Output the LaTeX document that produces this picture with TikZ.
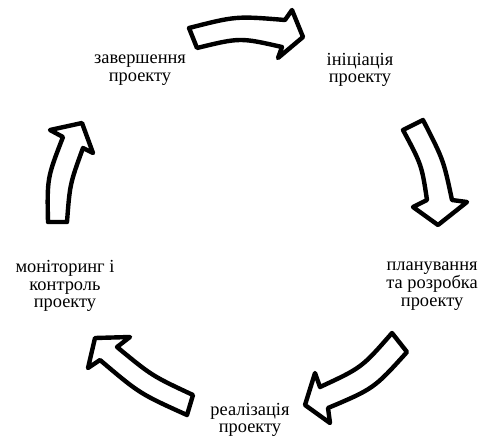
\documentclass[tikz,border=0pt]{standalone}
\usepackage{fontspec}
\setmainfont{Liberation Serif}
\tikzset{x=0.75pt,y=-0.75pt,
  stage/.style={align=center,inner sep=0pt,font=\fontsize{13.8}{13.3}\selectfont},
  blockarrow/.style={draw=black,fill=white,line width=3.3pt,line join=round}}

\begin{document}
\begin{tikzpicture}
        \useasboundingbox (0,0) rectangle (485,436);
        \node[stage] (fin) at (140,70) {завершення\\проекту};
        \node[stage] (init) at (360,70) {ініціація\\проекту};
        \node[stage, anchor=east] (plan) at (478,286) {планування\\та розробка\\проекту};
        \node[stage] (real) at (250,420) {реалізація\\проекту};
        \node[stage] (mon) at (65,286) {моніторинг і\\контроль\\проекту};
        % arrows between the stages
        \draw[blockarrow] (189,28) .. controls (236,16) .. (285,20) -- (292,10) -- (303,37)
            -- (278,58) -- (282,47) .. controls (240,37.5) .. (197,48) -- cycle;
        \draw[blockarrow] (403,130) -- (423,120) .. controls (443.5,160) .. (452,200) -- (467,202)
            -- (438,225) -- (413,207) -- (427,200) .. controls (421.7,165) .. (403,130) -- cycle;
        \draw[blockarrow] (392,333) -- (407,352) .. controls (374,388.5) .. (328,408) -- (330,423)
            -- (305,405) -- (315,373) -- (320,387) .. controls (361.7,367.7) .. (392,333) -- cycle;
        \draw[blockarrow] (193,395) -- (187,415) .. controls (139.6,393.6) .. (100,360) -- (88,368)
            -- (95,338) -- (130,337) -- (117,347) .. controls (151.9,375.8) .. (193,395) -- cycle;
        \draw[blockarrow] (48,222) -- (67,222) .. controls (69.9,183.9) .. (83,148) -- (93,153)
            -- (82,123) -- (50,130) -- (63,137) .. controls (47.1,178) .. (48,222) -- cycle;
    \end{tikzpicture}
\end{document}
